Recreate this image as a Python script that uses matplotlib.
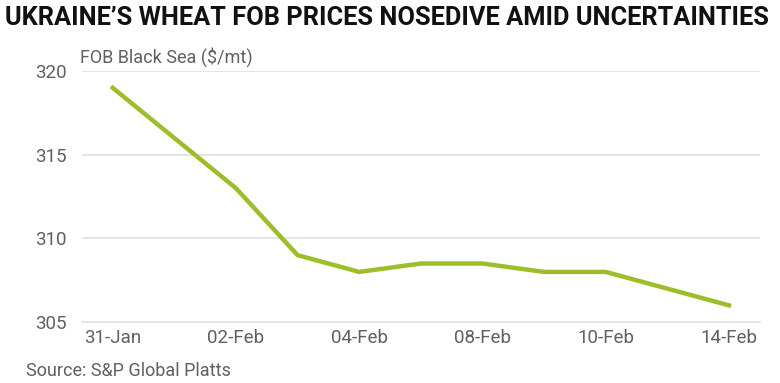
import matplotlib
matplotlib.use("Agg")
import matplotlib.pyplot as plt

dates = ["31-Jan", "01-Feb", "02-Feb", "03-Feb", "04-Feb", "07-Feb",
         "08-Feb", "09-Feb", "10-Feb", "11-Feb", "14-Feb"]
prices = [319, 316, 313, 309, 308, 308.5, 308.5, 308, 308, 307, 306]
yticks = [305, 310, 315, 320]

title = "UKRAINE\u2019S WHEAT FOB PRICES NOSEDIVE AMID UNCERTAINTIES"
ylabel = "FOB Black Sea ($/mt)"
source = "Source: S&P Global Platts"

plt.rcParams['font.family'] = ['Roboto', 'DejaVu Sans']

fig = plt.figure(figsize=(7.8, 3.83), dpi=100)
ax = fig.add_axes([0.105, 0.159, 0.869, 0.6554])

x = list(range(len(dates)))
ax.plot(x, prices, color="#9dbd2a", linewidth=3.2, solid_joinstyle="miter", zorder=3)

ax.set_ylim(305, 320)
ax.set_xlim(-0.5, len(dates) - 0.5)
ax.set_yticks(yticks)
ax.set_yticklabels([str(v) for v in yticks])
ax.set_xticks(x[::2])
ax.set_xticklabels(dates[::2])

ax.grid(axis="y", color="#e3e3e3", linewidth=1.3)
ax.set_axisbelow(True)
for s in ["top", "right", "left"]:
    ax.spines[s].set_visible(False)
ax.spines["bottom"].set_color("#e3e3e3")
ax.spines["bottom"].set_linewidth(1.3)
ax.tick_params(axis="both", length=0, labelsize=13.5, labelcolor="#606060")
ax.tick_params(axis="y", pad=11)
ax.tick_params(axis="x", pad=5)

fig.text(0.007, 0.952, title, fontsize=18.3, fontweight="bold", fontstretch="condensed",
         color="#111111", ha="left", va="center")
fig.text(0.102, 0.851, ylabel, fontsize=13, color="#606060", ha="left", va="center")
fig.text(0.033, 0.031, source, fontsize=13, color="#606060", ha="left", va="center")

fig.savefig("out.png", dpi=100, facecolor="white")
